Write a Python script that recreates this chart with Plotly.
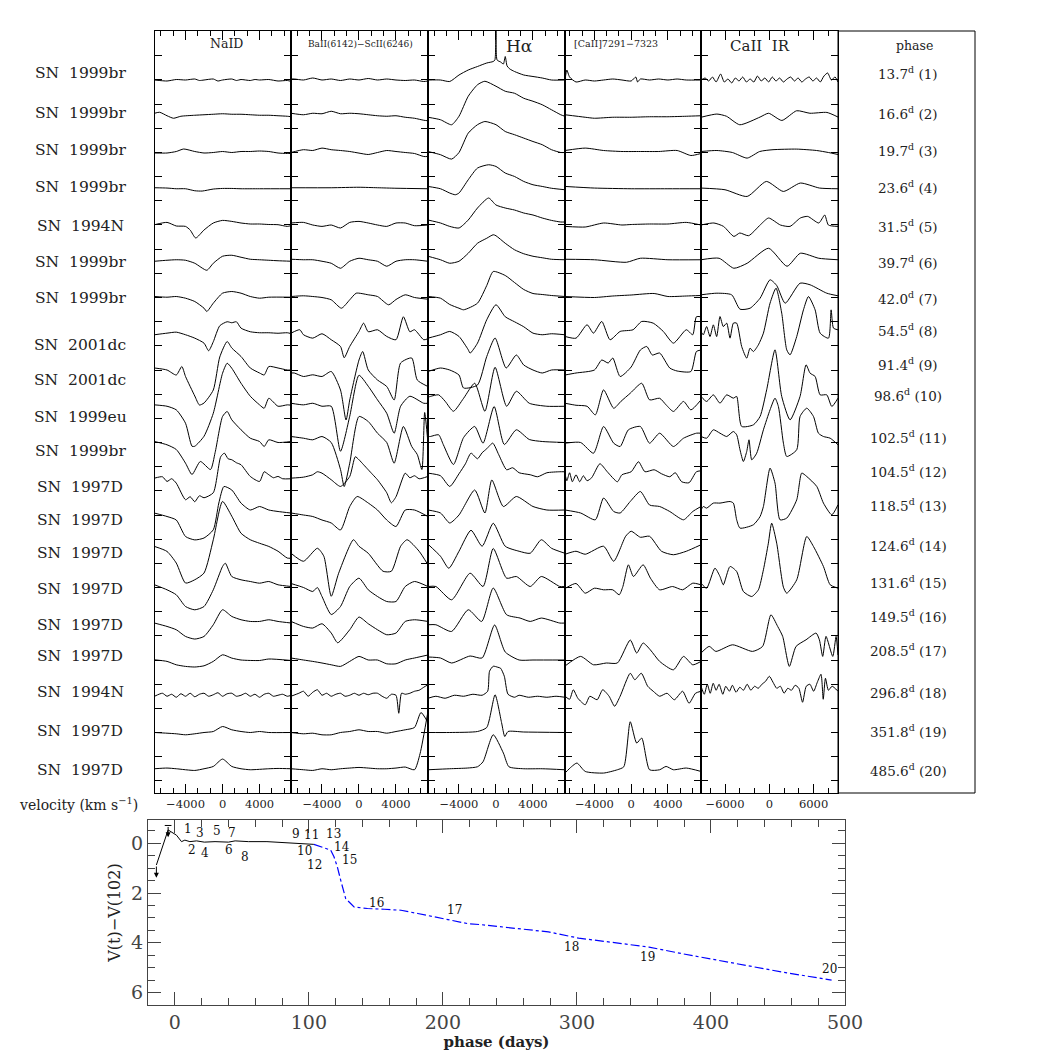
import plotly.graph_objects as go

# ---------------------------------------------------------------- data
SN_NAMES = ["SN 1999br", "SN 1999br", "SN 1999br", "SN 1999br", "SN 1994N",
            "SN 1999br", "SN 1999br", "SN 2001dc", "SN 2001dc", "SN 1999eu",
            "SN 1999br", "SN 1997D", "SN 1997D", "SN 1997D", "SN 1997D",
            "SN 1997D", "SN 1997D", "SN 1994N", "SN 1997D", "SN 1997D"]
PHASES = [13.7, 16.6, 19.7, 23.6, 31.5, 39.7, 42.0, 54.5, 91.4, 98.6,
          102.5, 104.5, 118.5, 124.6, 131.6, 149.5, 208.5, 296.8, 351.8, 485.6]
# vertical offset of each spectrum (flux units)
OFFSETS = [713.0, 676.75, 640.5, 604.25, 568.0, 531.75, 495.5, 459.25, 423.0, 386.75,
           350.5, 314.25, 278.0, 241.75, 205.5, 169.25, 133.0, 96.75, 60.5, 24.25]

# spectra: list of (velocity km/s, relative flux) per epoch; None = not observed
NAID = [
    [(-7350,0),(-6000,-1),(-5000,0.5),(-4000,0),(-3000,1),(-2500,-0.5),(-2000,0),(-1000,1),(-500,-1),(0,0),(1000,1),(1500,-0.5),(2000,0.5),(3000,-0.5),(3500,0.5),(4000,0),(5000,0.5),(6000,-1),(7000,-0.5),(7450,-1.5)],
    [(-7350,3),(-6800,4),(-6000,0.5),(-5300,-2),(-4500,0),(-3000,1),(-2000,1.5),(-1000,2),(0,2.5),(1000,2),(2000,2),(3000,1.5),(4000,1),(5000,1),(6000,0.5),(7000,0),(7450,-0.5)],
    [(-7350,-0.5),(-6000,-0.5),(-5000,1),(-4200,3.5),(-3000,1),(-2000,-0.5),(-1000,0),(0,1),(1000,0),(2000,1),(3000,1),(4000,1.5),(5000,1),(6000,-0.5),(7000,-1),(7450,-1)],
    [(-7350,1),(-6000,0.7),(-5000,0),(-4000,0),(-3000,-2),(-2200,-2.3),(-1000,-0.3),(0,0.3),(1000,0.3),(2000,0),(4000,0),(7450,0)],
    [(-7350,0.3),(-6000,2.6),(-5000,-1),(-4000,-1.4),(-3500,-5),(-2900,-13),(-2000,-5),(-1000,2),(0,4.6),(1000,3.6),(2000,2),(3000,1),(4000,1),(5000,0.5),(6000,0.3),(7000,-1.4),(7450,-0.5)],
    [(-7350,0),(-6000,1),(-5000,1.5),(-4000,1),(-3000,-2),(-1700,-9),(-1000,-2),(0,5),(1000,6),(2000,4),(3000,2),(4000,1.5),(5000,1),(6000,0.5),(7450,0)],
    [(-7350,1),(-6000,0.3),(-5000,1),(-4000,-0.7),(-3000,-4),(-2000,-10.7),(-1700,-14),(-1000,-5.7),(0,4.3),(1000,6),(2000,4.3),(3000,1),(4000,-0.7),(5000,0.3),(7450,0.3)],
    [(-7350,-1),(-6000,0.6),(-5000,1.6),(-4000,-1),(-3000,-4.4),(-2000,-9.4),(-1500,-17),(-1000,-8),(-300,8),(500,12),(1000,11),(1500,12),(2000,5.6),(3000,2),(4000,1),(5000,1),(6000,0.5),(7000,1),(7450,0)],
    [(-7350,2),(-6000,0),(-5000,-5),(-4400,3.5),(-4000,-6.5),(-3000,-26),(-2500,-35),(-2000,-33),(-1000,-20),(-300,13),(500,28.5),(1000,22),(2000,13.5),(3000,2),(4000,-3),(4500,-5),(5000,3.5),(6000,2),(7000,0),(7450,0)],
    [(-7350,1.4),(-6000,0),(-5000,-3.6),(-4000,-17),(-3300,-40),(-3000,-40),(-2000,-30),(-1000,-7),(0,33),(500,43),(1000,38),(2000,23),(3000,10),(4000,1.4),(4500,-2),(5000,8),(6000,0),(7000,1.4),(7450,1)],
    [(-7350,1),(-6000,-2.3),(-5000,-7),(-4000,-20.7),(-3300,-32),(-2400,-19),(-1300,-27),(-800,-10),(0,26),(500,31),(1000,22.7),(2000,12.7),(3000,4.3),(4000,1),(4500,-4),(5000,2.7),(6000,0),(7450,1)],
    [(-7350,0.6),(-6500,2),(-6000,-2.7),(-5500,0),(-5000,-4.4),(-4000,-21),(-3500,-18),(-3000,-23),(-2500,-17),(-2000,-19),(-1000,-14),(-200,22),(200,25.6),(600,20),(1000,19),(1500,16),(2000,14),(3000,2.3),(4000,-2.7),(4500,7),(5000,4),(5500,1),(6000,2.3),(6500,0),(7450,0)],
    [(-7350,1.9),(-6000,-1.5),(-5000,-5),(-4000,-21.5),(-3000,-24.9),(-2000,-23),(-1000,-14.8),(-400,12),(150,28.5),(1000,25),(2000,11.9),(3000,5),(4000,8.5),(5000,5),(6000,3.5),(7450,1.9)],
    [(-7350,4.8),(-6000,-0.2),(-5000,-11.8),(-4000,-31.8),(-3000,-28.5),(-2000,-21.8),(-1000,11.5),(0,49.8),(1000,35),(2000,18),(3000,11.5),(4000,8),(5000,4.8),(6000,0),(7000,-6.8),(7450,-7)],
    [(-7350,2.7),(-6000,-2.3),(-5000,-7.3),(-4000,-19),(-3000,-22.3),(-2000,-19),(-1000,-2.3),(0,21),(300,24.3),(1000,11),(2000,7.7),(3000,6),(4000,4.3),(5000,6),(6000,2.7),(7450,1)],
    [(-7350,0.7),(-6000,-2.7),(-5000,-6),(-4000,-12.7),(-3000,-15.3),(-2000,-12.7),(-1000,-1),(0,14),(1000,7.3),(2000,4),(3000,2.3),(4000,2.3),(5000,4),(6000,2.3),(7450,0.7)],
    [(-7350,0.2),(-6000,-1.4),(-5000,-4.8),(-4000,-6.4),(-3000,-7),(-2000,-5.8),(-1000,-1.4),(0,5.2),(1000,1.9),(2000,0),(4000,-0.5),(5000,1),(7450,-0.5)],
    [(-7350,0),(-6500,3),(-6000,0),(-5500,2),(-5000,-1),(-4500,2.5),(-4000,0),(-3500,3),(-3000,-0.5),(-2500,2),(-2000,3),(-1500,0),(-1000,1.5),(-500,3.5),(0,0),(500,2.5),(1000,3),(1500,0),(2000,1),(2500,3),(3000,0),(3500,2),(4000,-1),(4500,2),(5000,3),(5500,0),(6000,1),(6500,2),(7000,0),(7450,1)],
    [(-7350,0),(-6000,-0.7),(-5000,-1.3),(-4000,-2.3),(-3000,-1.3),(-2000,0),(-1000,1),(0,6),(1000,2.7),(2000,1),(3000,0),(4000,1),(5000,0),(7450,0)],
    [(-7350,0),(-6000,0.7),(-5000,0),(-3000,-1.7),(-2000,0),(-1000,2.3),(0,9.7),(1000,2.3),(2000,0),(3000,-1),(5000,0),(6000,0.3),(7450,0)],
]

BAII = [
    [(-7350,1),(-7000,1),(-6000,0),(-5000,2),(-4000,0),(-3000,1),(-2000,-0.5),(-1000,1),(0,0),(1000,1.5),(2000,0),(3000,1),(4000,0),(5000,-0.5),(6000,0),(7000,-1.5),(7450,-1)],
    [(-7350,3),(-6000,1.5),(-5000,3),(-4000,2.5),(-3000,5),(-2000,2.5),(-1000,3),(0,2.5),(1000,1.5),(2000,0.5),(3000,0),(4000,0.5),(5000,-1),(6000,-2),(7000,-4),(7450,-4.5)],
    [(-7350,0),(-6000,2.8),(-5000,2),(-4000,4.4),(-3000,2.8),(-2000,2),(-1000,1),(0,-0.6),(1000,-2),(2000,0),(3000,2),(4000,1),(5000,0),(6000,-1),(7000,-4),(7450,-4)],
    [(-7350,1),(-3000,1),(0,1.5),(2000,1),(4000,0.5),(7450,0)],
    [(-7350,2),(-6000,2.6),(-5000,0),(-4000,-1.4),(-3000,0),(-2000,-3),(-1000,2.6),(0,3.6),(1000,2),(2000,0),(3000,-1.4),(4000,2),(5000,2),(6000,-0.7),(7450,0)],
    [(-7350,2),(-6000,1.5),(-5000,1.5),(-4000,0),(-3000,-2),(-2000,-7),(-1000,0),(0,3),(1000,1.5),(2000,0),(3000,-5),(4000,0),(5000,1.5),(6000,1.5),(7450,0)],
    [(-7350,1),(-6000,1.7),(-5000,1),(-4000,0),(-3000,-2.3),(-1900,-10.7),(-1000,-2.3),(-300,4.3),(1000,2.7),(2000,1),(3200,-7.3),(4000,-2),(5000,2.7),(6000,0),(7450,-1.7)],
    [(-7350,0.6),(-6400,4),(-6000,-1),(-5000,-4.4),(-4000,0),(-3000,-6),(-2000,-12.7),(-1600,-24),(-1000,-12.7),(0,2.3),(500,10.6),(1000,2),(2000,4),(3000,-2.7),(4000,-6),(4800,17),(5500,2),(6000,4),(7000,-6),(7450,-5)],
    [(-7350,-3),(-7000,-3),(-6000,-6.5),(-5000,-4.8),(-4000,-6.5),(-3000,-1.5),(-2000,-20),(-1400,-50),(-1000,-30),(0,10),(400,18.5),(1000,0),(2000,-10),(3000,-16.5),(3800,-30),(4500,7),(5700,12),(6300,-10),(7450,-16.5)],
    [(-7350,3),(-6000,1.4),(-5000,3),(-4000,0),(-3000,0),(-2000,-45),(-1000,-10),(0,31),(1000,20),(2000,6.4),(3000,-7),(3800,-27),(4500,0),(5500,10),(7000,3),(7450,3)],
    [(-7350,6),(-6000,4.3),(-5000,2.7),(-4000,6),(-3000,0),(-2000,-27),(-1600,-44),(-1000,-20.7),(0,26),(1000,21),(2000,9.3),(3000,0),(3800,-20.7),(4800,16),(5700,-4),(6300,-12),(6800,-27),(7100,30),(7450,0)],
    [(-7350,0.6),(-6000,1.6),(-5000,4),(-4500,7),(-4000,5.6),(-3000,-1),(-2000,-7.7),(-1000,2.3),(-400,22),(0,19),(500,14),(1000,9),(1500,4),(2000,-1),(3000,-14),(3500,-24),(4000,-18),(5000,5.6),(5500,1),(6000,3),(6500,0),(7450,2.3)],
    [(-7350,2),(-6000,0),(-5000,-1.5),(-4000,-5),(-3000,-8),(-2000,-15),(-1000,8.5),(-200,18.5),(1000,12),(2000,5),(3000,-5),(4000,-11.5),(5000,5),(6000,5),(7450,-1.5)],
    [(-7350,-2),(-6000,-10),(-4500,3),(-3800,-5),(-3000,-45),(-2200,-22),(-600,11.5),(0,5),(1000,-2),(2600,-20),(3500,-20),(4500,5),(5200,11.5),(6500,0),(7450,-13.5)],
    [(-7350,4),(-6000,0),(-5000,-4),(-4500,0),(-4000,-9),(-3000,-27),(-2000,-19),(-1000,1),(0,9.3),(1000,-2.3),(2000,-9),(3000,-14),(4000,-14),(5000,1),(6000,6),(7450,1)],
    [(-7350,2.3),(-6000,-2.7),(-5000,-4.3),(-4000,0),(-3000,-9.3),(-2300,-19),(-1000,-6),(0,6.7),(1000,0),(2000,-6),(3000,-11),(4000,-9.3),(5000,2.3),(6000,4),(7450,2.3)],
    [(-7350,2),(-6000,0),(-5000,-1.4),(-4000,-3),(-3000,-4.8),(-2000,-6.4),(-1000,-1.4),(0,3.6),(1000,0),(2000,0),(3000,-3.8),(4000,-3.8),(5000,0),(6000,2),(7450,5)],
    [(-7350,0),(-6500,3),(-6000,5),(-5500,0),(-5000,4),(-4500,6.5),(-4000,1),(-3500,3),(-3000,0),(-2500,2),(-2000,3),(-1500,0),(-1000,1),(-500,3),(0,1),(500,3),(1000,1.5),(1500,3),(2000,3),(2500,0),(3000,-2),(3500,2),(4000,1),(4300,-17),(4600,3),(5000,2),(5500,3),(6000,5),(6500,6),(7000,9),(7450,11.5)],
    [(-7350,0),(-6000,-1.3),(-5000,-0.7),(-4000,-2.3),(-3000,-2.3),(-2000,0),(-1000,1),(0,2.7),(1000,1),(2000,1),(3000,-0.7),(4000,1),(5000,2.7),(6000,5),(6700,20),(7450,10)],
    [(-7350,0),(-6000,-1),(-5000,-1.7),(-4000,0),(-3000,-1),(-2000,0),(-1000,0.7),(0,1.3),(1000,0.7),(2000,0),(3000,0),(4000,0.7),(5000,1.7),(6000,-1),(6600,15),(7450,57)],
]

HALPHA = [
    [(-7350,0),(-6000,0),(-5000,-1.5),(-4000,5),(-3000,10),(-2000,13.5),(-1000,17),(-300,18.5),(-120,20),(0,49),(120,20),(500,18),(800,16),(1000,23.5),(1200,14),(1500,11),(2000,8.5),(3000,5),(4000,3.5),(5000,2),(6000,0),(7450,0)],
    [(-7350,-1),(-6000,-3.5),(-4800,-8.5),(-4000,0),(-3000,20),(-2000,31.5),(-1200,35),(0,30),(1000,25),(2000,23),(3000,18),(4000,15),(5000,11.5),(6000,6.5),(7000,1.5),(7450,0)],
    [(-7350,1),(-6000,-2.2),(-4800,-6.6),(-4000,0),(-3000,19.4),(-2000,27.8),(-1200,31),(0,27.8),(1000,21),(2000,17.8),(3000,14.4),(4000,11),(5000,7.8),(6000,2.8),(7000,0),(7450,0)],
    [(-7350,2.3),(-6000,0),(-5000,-4.3),(-4400,-6),(-4000,-4.3),(-3000,9),(-2000,20.7),(-800,24),(0,22.3),(1000,15.7),(2000,12.3),(3000,7.3),(4000,4),(5000,2.3),(6000,0.5),(7450,-1)],
    [(-7350,5),(-6000,2),(-5000,-1.4),(-4000,-3),(-3000,5),(-2000,17),(-800,27),(0,20),(1000,17),(2000,15),(3000,12),(4000,10),(5000,7),(6000,4.6),(7000,3),(7450,3)],
    [(-7350,5),(-6000,1.5),(-5000,-2),(-4000,0),(-3000,8),(-2000,18),(-1000,23),(-300,26.5),(0,25.5),(1000,18),(2000,11.5),(3000,7.5),(4000,5),(5000,3.5),(6000,2),(7450,1.5)],
    [(-7350,1),(-6000,-0.7),(-5000,-7),(-4000,-10.7),(-3500,-12.3),(-2000,-5.7),(-1000,12),(-300,26),(1000,22),(2000,15),(3000,8),(4000,4),(5000,3),(6000,2),(7450,1)],
    [(-7350,-4.4),(-6000,-1),(-5000,2.3),(-4000,-2.7),(-3000,-16),(-2800,-19.4),(-2000,-9.4),(-1000,14),(0,29),(1000,17),(2000,12),(3000,7),(4000,0.6),(5000,-1),(6000,0),(7450,-1)],
    [(-7350,-1.5),(-6000,2),(-5000,0),(-4000,-5),(-3500,-18),(-2000,-15),(-1000,13.5),(-100,32),(1100,2),(2200,15),(3000,5),(4000,0),(5000,-3),(6000,0),(7450,0)],
    [(-7350,9),(-7100,9.8),(-6200,11.4),(-5500,5),(-4600,-5),(-3500,8),(-2300,23),(-1200,-5),(-100,39),(1150,0),(2200,15),(3600,3),(5500,0),(7450,0)],
    [(-7350,6),(-7100,6),(-6200,7.7),(-5700,-2),(-4600,-22),(-3500,5),(-2300,16),(-1400,-0.7),(-200,36),(900,-2),(2200,12.7),(3600,3),(5000,1),(7450,0)],
    [(-7350,5.6),(-6000,3),(-5000,-7.7),(-4000,5),(-3300,15),(-2700,25.6),(-2000,20),(-1500,26),(-1000,30),(-350,35.6),(300,24),(1150,9),(1800,11),(2500,6),(3700,4),(4500,2),(5500,6),(6900,7),(7450,7)],
    [(-7350,5),(-6000,2),(-5000,-8),(-4000,0),(-2300,25),(-1200,2),(-450,35),(800,8.5),(2200,18.5),(4000,8.5),(5500,5),(7450,5)],
    [(-7350,7),(-6000,-5),(-5100,-17),(-4000,0),(-2700,21),(-1500,5),(-300,28),(1000,5),(2500,0),(3700,-2),(4900,11.5),(6000,3),(7450,-2)],
    [(-7350,1),(-6500,1),(-4800,-12.3),(-2800,14.3),(-1400,1),(-300,39),(1150,9.3),(2200,11),(3700,1),(4900,11),(6900,1),(7450,1)],
    [(-7350,-1),(-6500,-1),(-4800,-7.7),(-3000,14),(-1550,2.3),(-300,35.7),(1150,9),(2600,5.7),(3700,2.3),(4900,5.7),(6900,0.7),(7450,0.7)],
    [(-7350,3),(-6000,2),(-4800,-3),(-2800,4),(-1500,2),(-150,35),(1000,8),(2500,0),(4000,0),(7450,0)],
    [(-7350,-2),(-6500,0),(-5500,-2),(-4500,1),(-3500,0),(-2500,2),(-1500,1),(-900,5),(-700,25),(-300,30),(200,29),(500,28),(900,20),(1300,2),(2000,-1),(2500,1),(3500,-1),(4500,0),(5500,-1),(6500,0),(7450,-1)],
    [(-7350,0),(-5000,0),(-2000,1),(-1000,5),(-100,37.7),(600,10),(950,-4),(1300,1),(3000,0.5),(7450,0)],
    [(-7350,-1),(-5000,0),(-3100,0.7),(-2000,2),(-1400,7),(-300,34),(800,15.7),(1400,2),(3000,0),(5000,0),(7450,-1)],
]

CAII_FORB = [
    [(-7200,0),(-7000,10),(-6700,3),(-6000,-2),(-5000,0),(-4000,-1),(-3000,0),(-2000,1),(-1000,0),(0,-1),(500,3),(700,-2),(1000,1),(2000,0),(3000,1),(4000,0),(5000,1),(6000,0),(7600,0)],
    [(-7200,1.5),(-5000,-1),(-4000,-2),(-2000,-1),(0,-1),(2000,-0.5),(4000,-0.5),(6000,0),(7600,0.5)],
    [(-7200,2),(-5000,4.4),(-3000,2),(-1000,1),(1000,1),(3000,1),(5000,2),(6500,-3),(7600,-1)],
    [(-7200,2.3),(-4000,0.7),(0,0),(4000,0),(7600,0)],
    [(-7200,-1.4),(-5000,-2),(-3000,2),(-1000,0),(0,0.5),(2000,1),(4000,1),(6000,2.6),(7600,0)],
    [(-7200,2),(-4000,1.5),(-500,-1),(1000,3),(4000,1.5),(7600,1.5)],
    [(-7200,1),(-4000,0),(-2000,1.5),(0,2.5),(2500,4),(4000,1),(6000,1.5),(7600,2)],
    [(-7200,-2.7),(-6000,-4.4),(-4800,9),(-4100,0.6),(-3200,12.3),(-2300,-6),(-1200,2.3),(200,4),(1150,12.3),(2400,10.6),(3500,2.3),(4600,-9.4),(6000,4),(6700,-1),(7100,17),(7600,17)],
    [(-7200,-5),(-6000,-3),(-4000,0),(-3200,10),(-2500,7),(-2000,12),(-1200,-6.5),(0,3),(1000,20),(1700,23.5),(2300,15),(3100,17),(4200,2),(5000,-1),(6500,-1.5),(7100,18.5),(7600,20)],
    [(-7200,3),(-6000,1),(-4800,0),(-3900,-8.6),(-3000,16.4),(-1900,-2),(-1100,5),(-100,13),(1150,23),(2000,6.4),(3100,8),(3800,1.4),(4600,-5.2),(5700,4.8),(6500,-3.6),(7600,6.4)],
    [(-7200,-0.7),(-5500,0),(-4100,-10.7),(-3000,16),(-1900,-0.7),(-1200,-4),(-300,12.7),(1000,16),(2000,-0.7),(3100,9.3),(4600,-4),(5700,4.3),(7100,9.3),(7600,9.3)],
    [(-7200,5),(-7000,-2),(-6700,6),(-6400,-3),(-6000,4),(-5600,-3),(-5200,3),(-4800,-2),(-4300,1),(-3400,15),(-2600,7),(-1500,-3),(-1000,4),(0,7),(800,17),(1500,7),(2500,9),(3300,5),(4200,2),(4800,6),(5500,-3),(6300,-4),(7100,7),(7600,8)],
    [(-7200,5),(-5500,2),(-3900,-4.8),(-3000,17),(-1900,3.5),(-1200,2),(-100,13.5),(1000,23.5),(2000,10),(3100,8.5),(4200,3.5),(5700,-4.8),(6700,3.5),(7600,8.5)],
    [(-7200,-3),(-6000,0),(-5000,-3),(-3000,5),(-1900,-10),(-600,15),(0,20),(1000,14),(2000,15),(3300,0),(4600,-3.5),(6000,0),(7600,6.5)],
    [(-7200,-1),(-6000,4),(-5000,-5.7),(-4000,-0.7),(-3000,-2.3),(-2000,-2.3),(-1300,-7.3),(-900,1),(-300,22.7),(250,11),(1300,22.7),(2100,9.3),(3100,-2.3),(4500,1),(5600,-2.3),(6700,4.3),(7600,2.7)],
    None,
    [(-7200,-6),(-5500,3.6),(-4100,-4.8),(-2700,-3),(-1500,-3),(-100,20),(600,7),(1300,17),(2100,10),(3100,-1.4),(4600,-9.8),(5700,3.6),(6700,-4.8),(7600,-1.4)],
    [(-7200,0),(-6700,-3),(-6300,6.5),(-5800,-2),(-5000,-8.5),(-4500,0),(-3700,-3.5),(-3100,6.5),(-2400,0),(-1800,-10),(-1200,0),(-100,23),(400,16.5),(1100,23),(1800,10),(2400,5),(3100,0),(3900,3),(4700,-3.5),(5600,5),(6300,-7),(7000,3),(7600,5)],
    None,
    [(-7200,-4.3),(-6500,2),(-5900,5.7),(-5000,-2.7),(-3000,-4.3),(-1500,-1),(-800,2),(-100,47),(600,25.7),(1150,30.7),(2000,-1),(3100,-1),(3800,2.3),(4600,-1),(6000,0.7),(7600,-2.7)],
]

CAII_IR = [
    [(-9250,0),(-8700,2),(-8200,-1),(-7700,3),(-7200,-2),(-6600,6),(-6100,-2),(-5600,1),(-5100,-3),(-4600,2),(-4100,-1),(-3600,3),(-3100,-2),(-2600,1),(-2100,-2),(-1600,4),(-1100,-1),(-600,2),(-100,-2),(400,3),(900,-1),(1400,2),(1900,-2),(2400,1),(2900,3),(3400,-1),(3900,2),(4400,-2),(4900,1),(5400,3),(5900,-1),(6400,2),(6900,-2),(7400,4),(7900,7),(8400,0),(8900,3),(9300,-2)],
    [(-9250,-1),(-7100,2.2),(-5800,0),(-4000,-8.5),(-1250,-0.8),(-100,3),(1700,-4.2),(3700,5.5),(5500,3),(7800,3.8),(9300,-0.8)],
    [(-9250,1),(-7100,2),(-5000,0),(-3000,-5.6),(-1300,1),(500,2.8),(3700,3.4),(6400,2),(8000,0),(9300,-2)],
    [(-9250,0.7),(-6000,-1),(-3000,-7.7),(-400,7.3),(1900,-2.7),(4200,5.7),(6800,0.7),(9300,0)],
    [(-9250,0),(-7500,2),(-6200,-1.4),(-4800,-11.4),(-4000,-8),(-2800,-10.7),(-1200,0.3),(-100,7),(1500,0),(2800,-1.4),(4200,7),(5200,8.6),(6700,2),(7500,10),(8000,0),(9300,-1.4)],
    [(-9250,1.5),(-6800,3),(-4800,-7),(-3000,-2),(-100,13),(2400,-5),(4200,8),(6700,3),(9300,1.5)],
    [(-9250,2.7),(-7100,4.3),(-5100,2.7),(-3970,-11.7),(-2600,-10.7),(-1250,-0.7),(100,17.7),(1000,12),(2150,-5.7),(4160,14.3),(5520,12.7),(7780,4.3),(9300,1.7)],
    [(-9250,2.2),(-8940,-1.1),(-8490,7.2),(-8030,-2.8),(-7580,8.9),(-7130,-2.8),(-6680,17.2),(-6230,7.2),(-5770,10.6),(-5320,-4.4),(-4870,10.6),(-4420,10.6),(-3740,-12.8),(-3060,-24.4),(-2610,-14.4),(-2160,-17.8),(-1480,-11.1),(-800,0.6),(100,30.6),(910,45.6),(1680,20.6),(2360,-16.1),(2810,-21.1),(3710,-2.8),(4620,23.9),(5300,37.2),(6200,23.9),(6880,0.6),(8010,-4.4),(8370,23.9),(8690,5.6),(9300,3.9)],
    None,
    [(-9250,9.8),(-8490,4.8),(-7580,11.4),(-6680,3.1),(-5770,11.4),(-4870,8.1),(-4420,9.8),(-3740,-20.2),(-2160,-18.6),(-1250,-10.2),(-360,16.4),(770,56.4),(1680,9.8),(2810,-13.6),(4160,9.8),(4980,41.4),(5520,33.1),(6200,29.8),(6880,11.4),(7780,11.4),(8460,-0.2),(9300,8.1)],
    [(-9250,6),(-8490,4.3),(-7580,12.7),(-6680,9.3),(-5770,6),(-4870,11),(-4420,7.7),(-3970,-7.3),(-3510,-19),(-3060,-9),(-2750,2.7),(-2380,-17.3),(-1710,-10.7),(-800,12.7),(100,32.7),(770,44.3),(1230,36),(1910,-0.7),(2360,-14),(3710,-7.3),(4160,26),(5070,34.3),(5980,26),(6650,9.3),(7330,6),(8240,4.3),(9300,-2.3)],
    None,
    [(-9250,5.2),(-8940,8.5),(-8490,6.9),(-7580,11.9),(-6680,11.9),(-5320,13.5),(-4870,11.9),(-4420,-4.8),(-3970,-13.1),(-2160,-9.8),(-1250,-1.5),(-800,8.5),(100,46.9),(770,31.9),(1450,-4.8),(2360,-3.1),(3710,15.2),(4390,41.9),(5070,38.5),(6430,28.5),(7330,11.9),(8460,0.2),(9300,10.2)],
    None,
    [(-9250,4.3),(-8490,-0.7),(-7360,19.3),(-6680,11),(-6230,2.7),(-5320,21),(-4420,16),(-3510,-4),(-2380,-9),(-1480,-2.3),(-800,17.7),(-130,44.3),(320,64.3),(1000,44.3),(1910,0.3),(2360,-5.7),(3710,7.7),(5070,51),(5980,41),(7330,21),(8240,2.7),(9300,-0.7)],
    None,
    [(-9250,6.9),(-8140,13.6),(-7240,8.6),(-4980,15.2),(-2270,8.6),(-910,13.6),(220,45.2),(1130,33.6),(1810,23.6),(2710,-6.4),(3620,13.6),(4970,20.2),(6330,26.9),(6780,20.2),(7230,3.6),(7680,23.6),(8590,3.6),(9040,23.6),(9300,5)],
    [(-9250,10),(-8800,2),(-8400,12),(-8000,3),(-7600,13),(-7200,6),(-6800,12),(-6300,2),(-5900,10),(-5400,5),(-5000,11),(-4500,4),(-4000,9),(-3500,6),(-3000,12),(-2500,6),(-2000,10),(-1500,8),(-1000,12),(-500,15),(0,20),(500,14),(1000,8),(1500,10),(2000,3),(2500,8),(3000,6),(3500,11),(4000,8),(4500,-6),(5000,10),(5500,12),(6000,5),(6500,14),(7000,22),(7300,-3),(7600,18),(8000,6),(8500,10),(9300,5)],
    None,
    None,
]

COLUMN_TITLES = ["NaID", "BaII(6142)\u2212ScII(6246)", "H\u03b1", "[CaII]7291\u22127323", "CaII  IR"]
COLUMN_RANGES = [[-7300, 7400], [-7350, 7460], [-7350, 7460], [-7200, 7600], [-9250, 9300]]
COLUMN_TICKS = [[-4000, 0, 4000]] * 4 + [[-6000, 0, 6000]]
COLUMN_MINOR = [4000 / 3] * 4 + [2000]

# light curve V(t) - V(102)
LC_PHASE_BLACK = [-13.75, -5, 1.25, 5, 7.5, 11.25, 16.25, 22, 30, 40, 45, 55, 68.75, 80, 93.75, 103.75]
LC_MAG_BLACK = [0.87, -0.54, -0.33, -0.07, -0.13, -0.07, -0.1, -0.05, -0.07, -0.05, -0.1, -0.07, -0.07, -0.03, 0.0, 0.04]
LC_PHASE_BLUE = [103.75, 116.25, 118.75, 121.25, 123.75, 127.5, 133.75, 143.75, 156.25, 168.75,
                 181.25, 193.75, 206.25, 218.75, 228.75, 278.75, 301.25, 353.75, 378.75, 426.25, 453.75, 490]
LC_MAG_BLUE = [0.04, 0.27, 0.54, 0.94, 1.48, 2.22, 2.56, 2.62, 2.65, 2.69,
               2.82, 2.96, 3.09, 3.23, 3.27, 3.56, 3.81, 4.17, 4.44, 4.91, 5.18, 5.5]
LC_LABEL_PHASE = [9.75, 12.75, 18.75, 22.5, 31.5, 40.5, 42.75, 52.5, 90.75, 97.0,
                  102, 104.5, 118.5, 124.5, 130, 150.75, 208.5, 296.25, 352.5, 488.25]
LC_LABEL_MAG = [-0.56, 0.27, -0.42, 0.39, -0.5, 0.27, -0.42, 0.55, -0.36, 0.3,
                -0.34, 0.88, -0.36, 0.13, 0.66, 2.38, 2.66, 4.15, 4.55, 5.07]
UPPER_LIMIT_PHASE = -5
UPPER_LIMIT_MAG = -0.72

# ---------------------------------------------------------------- figure
W = 1063
FONT = "DejaVu Serif"


def fx(p):
    return p / W


def fy(p):
    return 1 - p / W


COL_EDGES = [155, 291, 428, 565, 701, 838]
TOP, BOTTOM = 31, 793

fig = go.Figure()
layout = dict(width=W, height=W, autosize=False, margin=dict(l=0, r=0, t=0, b=0, autoexpand=False),
              paper_bgcolor="white", plot_bgcolor="white", showlegend=False,
              font=dict(family=FONT, color="#222"))

spectra_cols = [NAID, BAII, HALPHA, CAII_FORB, CAII_IR]
for c, spectra in enumerate(spectra_cols):
    xn = "x" if c == 0 else f"x{c+1}"
    yn = "y" if c == 0 else f"y{c+1}"
    for k, knots in enumerate(spectra):
        if knots is None:
            continue
        fig.add_trace(go.Scatter(
            x=[p[0] for p in knots], y=[OFFSETS[k] + p[1] for p in knots],
            mode="lines", line=dict(color="black", width=1, shape="spline", smoothing=0.6),
            xaxis=xn, yaxis=yn, hoverinfo="skip"))
    key = "" if c == 0 else str(c + 1)
    layout["xaxis" + key] = dict(
        domain=[fx(COL_EDGES[c]), fx(COL_EDGES[c + 1])], range=COLUMN_RANGES[c], anchor=yn,
        showgrid=False, zeroline=False, showline=True, linecolor="black", linewidth=1,
        mirror="ticks", ticks="inside", ticklen=9, tickcolor="black",
        tickvals=COLUMN_TICKS[c], tickfont=dict(size=11.5, family=FONT, color="#222"),
        minor=dict(ticks="inside", ticklen=5, tickcolor="black", dtick=COLUMN_MINOR[c], tick0=0, showgrid=False),
        automargin=False, fixedrange=True)
    layout["yaxis" + key] = dict(
        domain=[fy(BOTTOM), fy(TOP)], range=[0, BOTTOM - TOP], anchor=xn,
        showgrid=False, zeroline=False, showline=True, linecolor="black", linewidth=1,
        mirror="ticks", ticks="inside", ticklen=7, tickcolor="black",
        tick0=12.1, dtick=24.17, showticklabels=False, automargin=False, fixedrange=True)

# light curve panel
fig.add_trace(go.Scatter(x=LC_PHASE_BLACK, y=LC_MAG_BLACK, mode="lines",
                         line=dict(color="black", width=1), xaxis="x6", yaxis="y6", hoverinfo="skip"))
fig.add_trace(go.Scatter(x=LC_PHASE_BLUE, y=LC_MAG_BLUE, mode="lines",
                         line=dict(color="blue", width=1.2, dash="dashdot"), xaxis="x6", yaxis="y6", hoverinfo="skip"))
# bar of the upper-limit symbol
fig.add_trace(go.Scatter(x=[UPPER_LIMIT_PHASE - 2.5, UPPER_LIMIT_PHASE + 2.5], y=[UPPER_LIMIT_MAG, UPPER_LIMIT_MAG],
                         mode="lines", line=dict(color="black", width=1), xaxis="x6", yaxis="y6", hoverinfo="skip"))

layout["xaxis6"] = dict(
    domain=[fx(148), fx(845)], range=[-20, 500], anchor="y6",
    showgrid=False, zeroline=False, showline=True, linecolor="#444", linewidth=1.2,
    mirror="ticks", ticks="inside", ticklen=13, tickcolor="#444",
    tickvals=[0, 100, 200, 300, 400, 500], tickfont=dict(size=19, family=FONT, color="#444"),
    minor=dict(ticks="inside", ticklen=7, tickcolor="#444", dtick=20, tick0=0),
    title=dict(text="<b>phase (days)</b>", font=dict(size=15, family=FONT, color="#222"), standoff=4),
    automargin=False, fixedrange=True)
layout["yaxis6"] = dict(
    domain=[fy(1005), fy(820)], range=[6.5, -0.94], anchor="x6",
    showgrid=False, zeroline=False, showline=True, linecolor="#444", linewidth=1.2,
    mirror="ticks", ticks="inside", ticklen=13, tickcolor="#444",
    tickvals=[0, 2, 4, 6], tickfont=dict(size=19, family=FONT, color="#444"),
    minor=dict(ticks="inside", ticklen=7, tickcolor="#444", dtick=0.5, tick0=0),
    title=dict(text="V(t)\u2212V(102)", font=dict(size=16, family=FONT, color="#222"), standoff=6),
    automargin=False, fixedrange=True)

annotations = []
# light-curve epoch labels
for i, (p, m) in enumerate(zip(LC_LABEL_PHASE, LC_LABEL_MAG)):
    annotations.append(dict(x=p, y=m, xref="x6", yref="y6", text=str(i + 1), showarrow=False,
                            xanchor="center", yanchor="middle",
                            font=dict(size=12, family=FONT, color="#111")))
# upper-limit arrows on the light curve
annotations.append(dict(x=LC_PHASE_BLACK[0], y=1.38, ax=LC_PHASE_BLACK[0], ay=LC_MAG_BLACK[0],
                        xref="x6", yref="y6", axref="x6", ayref="y6", showarrow=True,
                        arrowhead=2, arrowsize=1, arrowwidth=1, arrowcolor="black", text=""))
annotations.append(dict(x=UPPER_LIMIT_PHASE, y=-0.25, ax=UPPER_LIMIT_PHASE, ay=UPPER_LIMIT_MAG,
                        xref="x6", yref="y6", axref="x6", ayref="y6", showarrow=True,
                        arrowhead=2, arrowsize=1, arrowwidth=1, arrowcolor="black", text=""))

# column titles
title_pos = [(226, 44, 12.5), (360, 44, 9), (519, 46, 17), (616, 44, 9.5), (760, 46, 15)]
for t, (x, y, s) in zip(COLUMN_TITLES, title_pos):
    annotations.append(dict(x=fx(x), y=fy(y), xref="paper", yref="paper", text=t, showarrow=False,
                            xanchor="center", yanchor="middle",
                            font=dict(size=s, family=FONT, color="#222")))
annotations.append(dict(x=fx(914), y=fy(45), xref="paper", yref="paper", text="phase",
                        showarrow=False, xanchor="center", yanchor="middle",
                        font=dict(size=12.5, family=FONT, color="#222")))
annotations.append(dict(x=fx(78), y=fy(804), xref="paper", yref="paper",
                        text="velocity (km s<sup>\u22121</sup>)", showarrow=False,
                        xanchor="center", yanchor="middle",
                        font=dict(size=14, family=FONT, color="#222")))

# SN names and phase labels
SN_Y = [73, 113, 150, 187, 226, 262, 298, 345, 380, 417, 451, 487, 520, 553, 589, 625, 656, 692, 731, 770]
PH_Y = [73, 113, 150, 187, 226, 262, 298, 330, 364, 395, 437, 471, 505, 545, 582, 616, 650, 692, 731, 770]
for i in range(20):
    annotations.append(dict(x=fx(80), y=fy(SN_Y[i]), xref="paper", yref="paper",
                            text=SN_NAMES[i].replace(" ", "&nbsp;&nbsp;"), showarrow=False,
                            xanchor="center", yanchor="middle",
                            font=dict(size=15.5, family=FONT, color="#222")))
    annotations.append(dict(x=fx(908), y=fy(PH_Y[i]), xref="paper", yref="paper",
                            text=f"{PHASES[i]:.1f}<sup>d</sup> ({i+1})", showarrow=False,
                            xanchor="center", yanchor="middle",
                            font=dict(size=13.5, family=FONT, color="#222")))
layout["annotations"] = annotations

# frame of the phase column
layout["shapes"] = [dict(type="rect", xref="paper", yref="paper", x0=fx(838), x1=fx(975),
                         y0=fy(BOTTOM), y1=fy(TOP), line=dict(color="black", width=1))]

fig.update_layout(**layout)
fig.write_html("out.html", config={"responsive": False, "displayModeBar": False},
               post_script="document.body.style.margin='0px';document.body.style.overflow='hidden';")
